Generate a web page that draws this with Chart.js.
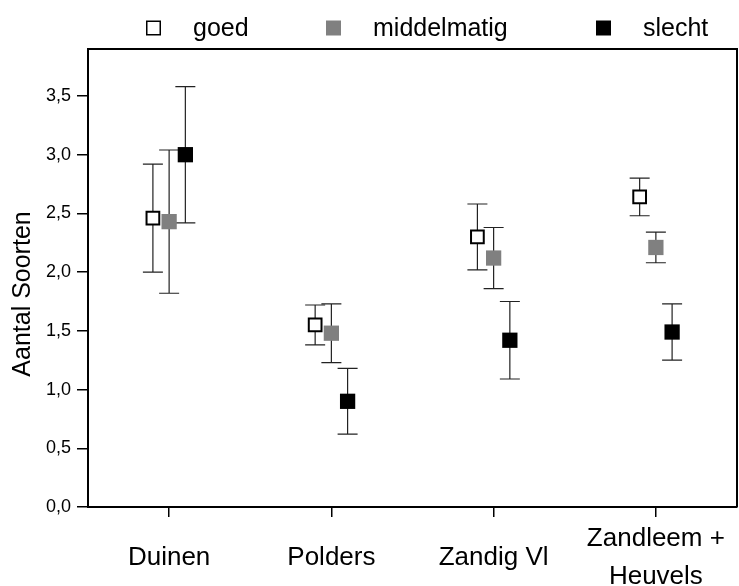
<!DOCTYPE html>
<html>
<head>
<meta charset="utf-8">
<script src="https://cdn.jsdelivr.net/npm/chart.js@4.4.0/dist/chart.umd.min.js"></script>
<style>
  html, body { margin: 0; padding: 0; background: #fff; }
  #wrap { width: 739px; height: 586px; }
</style>
</head>
<body>
<div id="wrap"><canvas id="chart"></canvas></div>
<script>
// data
const categories = [['Duinen'], ['Polders'], ['Zandig Vl'], ['Zandleem +', 'Heuvels']];
const yTicks = [0, 0.5, 1, 1.5, 2, 2.5, 3, 3.5];

const goed = [2.46, 1.55, 2.30, 2.64];
const goedLow = [2.00, 1.38, 2.02, 2.48];
const goedHigh = [2.92, 1.72, 2.58, 2.80];

const middelmatig = [2.43, 1.48, 2.12, 2.21];
const middelmatigLow = [1.82, 1.23, 1.86, 2.08];
const middelmatigHigh = [3.04, 1.73, 2.38, 2.34];

const slecht = [3.00, 0.90, 1.42, 1.49];
const slechtLow = [2.42, 0.62, 1.09, 1.25];
const slechtHigh = [3.58, 1.18, 1.75, 1.73];

const FONT = '"Liberation Sans", Arial, sans-serif';

function points(vals, low, high, shift) {
    return vals.map((v, i) => ({ x: i + shift, y: v, low: low[i], high: high[i] }));
}

// error bars under the markers
const errorBars = {
    id: 'errorBars',
    beforeDatasetsDraw(chart) {
        const ctx = chart.ctx;
        const xs = chart.scales.x, ys = chart.scales.y;
        ctx.save();
        ctx.strokeStyle = '#222';
        ctx.lineWidth = 1.2;
        chart.data.datasets.forEach(ds => {
            ds.data.forEach(p => {
                const x = xs.getPixelForValue(p.x);
                const yl = ys.getPixelForValue(p.low);
                const yh = ys.getPixelForValue(p.high);
                ctx.beginPath();
                ctx.moveTo(x, yl); ctx.lineTo(x, yh);
                ctx.moveTo(x - 10, yl); ctx.lineTo(x + 10, yl);
                ctx.moveTo(x - 10, yh); ctx.lineTo(x + 10, yh);
                ctx.stroke();
            });
        });
        ctx.restore();
    }
};

// top and right frame lines, y title a bit below the middle like the original
const frame = {
    id: 'frame',
    afterDraw(chart) {
        const a = chart.chartArea, ctx = chart.ctx;
        ctx.save();
        ctx.strokeStyle = '#000';
        ctx.lineWidth = 2;
        ctx.beginPath();
        ctx.moveTo(a.left, a.top);
        ctx.lineTo(a.right, a.top);
        ctx.lineTo(a.right, a.bottom);
        ctx.stroke();

        ctx.translate(23, (a.top + a.bottom) / 2 + 16);
        ctx.rotate(-Math.PI / 2);
        ctx.font = '25px ' + FONT;
        ctx.fillStyle = '#000';
        ctx.textAlign = 'center';
        ctx.textBaseline = 'middle';
        ctx.fillText('Aantal Soorten', 0, 0);
        ctx.restore();
    }
};

// legend on one row above the plot
const topLegend = {
    id: 'topLegend',
    afterDraw(chart) {
        const ctx = chart.ctx;
        const boxX = [146, 326, 596];
        const y = 28;
        ctx.save();
        ctx.font = '25px ' + FONT;
        ctx.textBaseline = 'middle';
        chart.data.datasets.forEach((ds, i) => {
            const s = 15;
            ctx.fillStyle = ds.backgroundColor;
            ctx.fillRect(boxX[i], y - s / 2, s, s);
            if (ds.borderWidth) {
                ctx.strokeStyle = ds.borderColor;
                ctx.lineWidth = 1.5;
                ctx.strokeRect(boxX[i] + 0.75, y - s / 2 + 0.75, s - 1.5, s - 1.5);
            }
            ctx.fillStyle = '#000';
            ctx.fillText(ds.label, boxX[i] + 47, y + 1);
        });
        ctx.restore();
    }
};

new Chart(document.getElementById('chart'), {
    type: 'scatter',
    data: {
        datasets: [{
            label: 'goed',
            data: points(goed, goedLow, goedHigh, -0.1),
            pointStyle: 'rect',
            pointRadius: 9,
            backgroundColor: '#fff',
            borderColor: '#000',
            borderWidth: 2
        }, {
            label: 'middelmatig',
            data: points(middelmatig, middelmatigLow, middelmatigHigh, 0),
            pointStyle: 'rect',
            pointRadius: 10.8,
            backgroundColor: '#808080',
            borderColor: '#808080',
            borderWidth: 0
        }, {
            label: 'slecht',
            data: points(slecht, slechtLow, slechtHigh, 0.1),
            pointStyle: 'rect',
            pointRadius: 10.8,
            backgroundColor: '#000',
            borderColor: '#000',
            borderWidth: 0
        }]
    },
    options: {
        responsive: true,
        maintainAspectRatio: false,
        animation: false,
        layout: { padding: { top: 49, right: 2, left: 0, bottom: 0 }, autoPadding: false },
        plugins: {
            legend: { display: false },
            tooltip: { enabled: false }
        },
        scales: {
            x: {
                type: 'linear',
                min: -0.5,
                max: 3.5,
                afterBuildTicks: s => { s.ticks = categories.map((c, i) => ({ value: i })); },
                afterFit: s => { s.height = 79; s.paddingLeft = 0; s.paddingRight = 0; },
                grid: { drawOnChartArea: false, tickLength: 10, color: '#000', lineWidth: 1.5 },
                border: { color: '#000', width: 2 },
                ticks: {
                    color: '#000',
                    padding: 22,
                    crossAlign: 'center',
                    font: { family: FONT, size: 26, lineHeight: 1.45 },
                    callback: v => categories[v]
                }
            },
            y: {
                min: 0,
                max: 3.9,
                afterBuildTicks: s => { s.ticks = yTicks.map(v => ({ value: v })); },
                afterFit: s => { s.width = 88; s.paddingTop = 0; s.paddingBottom = 0; },
                grid: { drawOnChartArea: false, tickLength: 11, color: '#000', lineWidth: 1.5 },
                border: { color: '#000', width: 2 },
                ticks: {
                    color: '#000',
                    padding: 6,
                    font: { family: FONT, size: 18 },
                    callback: v => v.toFixed(1).replace('.', ',')
                }
            }
        }
    },
    plugins: [errorBars, frame, topLegend]
});
</script>
</body>
</html>
